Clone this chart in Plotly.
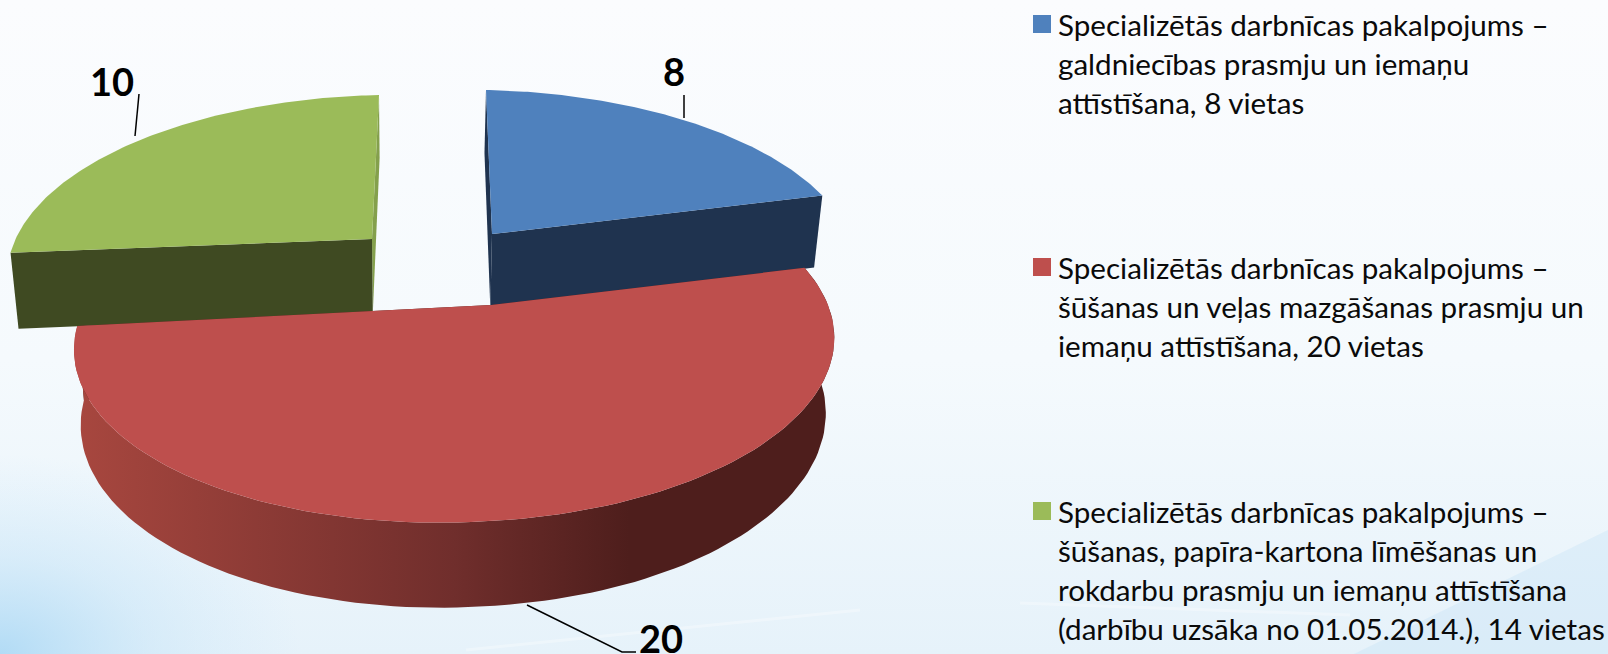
"""Exploded 3D pie with a side legend, drawn on a pixel-sized cartesian plot."""

import numpy as np
import plotly.graph_objects as go

categories = ["galdniecība", "šūšana un veļas mazgāšana", "šūšana, līmēšana un rokdarbi"]
values = [8, 20, 10]
value_labels = ["8", "20", "10"]
legend_lines = [
    ["Specializētās darbnīcas pakalpojums –",
     "galdniecības prasmju un iemaņu",
     "attīstīšana, 8 vietas"],
    ["Specializētās darbnīcas pakalpojums –",
     "šūšanas un veļas mazgāšanas prasmju un",
     "iemaņu attīstīšana, 20 vietas"],
    ["Specializētās darbnīcas pakalpojums –",
     "šūšanas, papīra-kartona līmēšanas un",
     "rokdarbu prasmju un iemaņu attīstīšana",
     "(darbību uzsāka no 01.05.2014.), 14 vietas"],
]

W, H = 1608, 654
RY, PERSP_Y = 172.8, 0.2
FONT = "Lato"

# per-slice placement: tip of the wedge, x radius and perspective, x skew, wall height, left droop
slices = [
    dict(tip=(492, 234), rx=376, a=0.051, skew=-6, h=75, droop=0, top="#4F81BD", wall="#1F334F", cut="#1F334F"),
    dict(tip=(491, 305), rx=369, a=0.095, skew=0, h=73, droop=5, top="#BE4F4D", wall=None, cut="#4E1E1C"),
    dict(tip=(372, 239), rx=376, a=-0.055, skew=7, h=75, droop=0, top="#9BBB59", wall="#3F4A22", cut="#84A04C"),
]
RED_WALL = [[0, "#A8473F"], [0.5, "#702E2C"], [0.73, "#4E1E1C"], [1, "#4E1E1C"]]


def top_point(s, angle, r=1.0):
    """Project a point of the pie's top face, angle clockwise from 12 o'clock."""
    t = np.radians(angle)
    u, v = r * np.sin(t), r * np.cos(t)
    w = 1 + s["a"] * u + PERSP_Y * v
    x = s["tip"][0] + s["rx"] * u / w + s["skew"] * v
    y = s["tip"][1] - RY * v / w - s["droop"] * min(u, 0)
    return x, y, v


def low_point(s, angle, r=1.0):
    """Same point at the bottom of the pie."""
    x, y, v = top_point(s, angle, r)
    return x + (410 - x) * 0.02, y + s["h"] - 12 * v


def arc(s, start, end, fn):
    pts = [fn(s, a)[:2] for a in np.linspace(start, end, 120)]
    return [p[0] for p in pts], [p[1] for p in pts]


def add_poly(fig, xs, ys, color=None, gradient=None, name=None):
    fig.add_trace(go.Scatter(
        x=xs, y=ys,
        mode="lines",
        fill="toself",
        fillcolor=color,
        fillgradient=gradient,
        line=dict(width=0),
        hoverinfo="skip",
        showlegend=False,
        name=name,
    ))


fig = go.Figure()

# slide background
add_poly(fig, [0, W, W, 0, 0], [0, 0, H, H, 0], gradient=dict(
    type="vertical",
    colorscale=[[0, "#E6F2FA"], [0.45, "#F5FAFD"], [1, "#FBFCFE"]],
))
add_poly(fig, [-300, 300, 300, -300, -300], [454, 454, 854, 854, 454], gradient=dict(
    type="radial",
    colorscale=[[0, "rgba(175,218,245,0.95)"], [0.5, "rgba(190,225,247,0.4)"], [1, "rgba(200,230,250,0)"]],
))
add_poly(fig, [1354, W, W, 1354], [H, 530, H, H], color="rgba(190,222,244,0.3)")
for bx, by in [([466, 860], [650, 610]), ([1020, 1350], [603, 615])]:
    fig.add_trace(go.Scatter(x=bx, y=by, mode="lines", line=dict(color="rgba(255,255,255,0.3)", width=3),
                             hoverinfo="skip", showlegend=False))

# wedges, back ones first; angles come from the values
total = sum(values)
edges = np.cumsum([0] + values) / total * 360
order = [2, 0, 1]
for i in order:
    s = slices[i]
    start, end = edges[i], edges[i + 1]
    name = categories[i]

    # radial cut walls, the thin ones seen edge-on first
    cuts = sorted((start, end), key=lambda a: abs(np.sin(np.radians(a))))
    for ang in cuts:
        tx, ty, _ = top_point(s, ang)
        bx, by = low_point(s, ang)
        tip_low = low_point(s, ang, r=0.0)
        colour = s["cut"]
        if i != 1 and abs(np.sin(np.radians(ang))) > 0.5:
            colour = s["wall"]
        add_poly(fig, [s["tip"][0], tx, bx, tip_low[0]], [s["tip"][1], ty, by, tip_low[1]], color=colour, name=name)

    ax, ay = arc(s, start, end, top_point)

    # outer wall only faces the viewer on the front slice
    if not s["wall"]:
        lx, ly = arc(s, end, start, low_point)
        add_poly(fig, ax + lx, ay + ly, gradient=dict(type="horizontal", colorscale=RED_WALL), name=name)

    # top face
    add_poly(fig, [s["tip"][0]] + ax + [s["tip"][0]], [s["tip"][1]] + ay + [s["tip"][1]], color=s["top"], name=name)

# leader lines
for lx, ly in [([684, 684], [95, 118]), ([139, 135], [94, 136]), ([527, 622, 636], [605, 652, 652])]:
    fig.add_trace(go.Scatter(x=lx, y=ly, mode="lines", line=dict(color="#000000", width=1.5),
                             hoverinfo="skip", showlegend=False))

# value labels
label_pos = [(674, 71), (661, 638), (112, 81)]
for text, (lx, ly) in zip(value_labels, label_pos):
    fig.add_annotation(x=lx, y=ly, text=text, showarrow=False,
                       font=dict(family=FONT, size=38, color="#000000", weight=700))

# legend: swatch plus one annotation per line, the line pitch is wider than plotly's <br>
legend_y = [24, 267, 511]
for i, lines in enumerate(legend_lines):
    fig.add_trace(go.Scatter(
        x=[1042], y=[legend_y[i]],
        mode="markers",
        marker=dict(symbol="square", size=18, color=slices[i]["top"]),
        name=categories[i],
        hoverinfo="skip",
        showlegend=False,
    ))
    for j, line in enumerate(lines):
        fig.add_annotation(x=1056, y=legend_y[i] + j * 39, text=line, showarrow=False,
                           xanchor="left", yanchor="middle",
                           font=dict(family=FONT, size=29.6, color="#0A0A0A"))

fig.update_layout(
    width=W, height=H,
    margin=dict(l=0, r=0, t=0, b=0),
    paper_bgcolor="#FBFCFE",
    plot_bgcolor="#FBFCFE",
    showlegend=False,
    xaxis=dict(range=[0, W], visible=False, fixedrange=True),
    yaxis=dict(range=[H, 0], visible=False, fixedrange=True),
)

fig.write_html("out.html", config=dict(displayModeBar=False),
               post_script="document.body.style.margin = '0';")
